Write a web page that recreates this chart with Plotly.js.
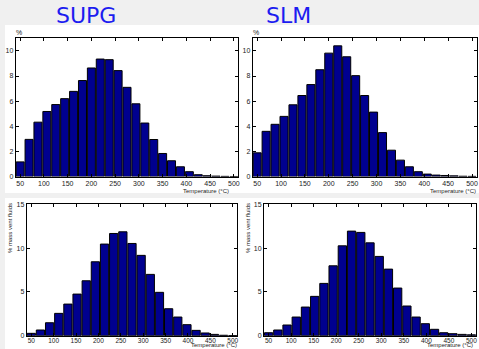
<!DOCTYPE html>
<html><head><meta charset="utf-8">
<script src="https://cdn.plot.ly/plotly-3.0.1.min.js"></script>
<style>html,body{margin:0;padding:0;background:#f0f0f0;}#g{width:479px;height:349px;}</style>
</head><body><div id="g"></div>
<script>
// Bin centres (°C)
const topBins = [50, 68.75, 87.5, 106.25, 125, 143.75, 162.5, 181.25, 200, 218.75, 237.5, 256.25, 275,
  293.75, 312.5, 331.25, 350, 368.75, 387.5, 406.25, 425, 443.75, 462.5, 481.25, 500];
const bottomBins = [50, 70.45, 90.91, 111.36, 131.82, 152.27, 172.73, 193.18, 213.64, 234.09, 254.55, 275,
  295.45, 315.91, 336.36, 356.82, 377.27, 397.73, 418.18, 438.64, 459.09, 479.55, 500];
// % values
const supgTop = [1.17, 2.96, 4.33, 5.18, 5.73, 6.2, 6.78, 7.64, 8.64, 9.35, 9.3, 8.43, 7.1,
  5.79, 4.26, 2.95, 1.84, 1.26, 0.78, 0.39, 0.15, 0.07, 0.04, 0.02, 0.01];
const slmTop = [1.89, 3.6, 4.16, 4.79, 5.71, 6.45, 7.32, 8.5, 9.82, 10.4, 9.53, 8.03, 6.45,
  5.13, 3.5, 2.1, 1.31, 0.78, 0.39, 0.2, 0.12, 0.09, 0.06, 0.03, 0.02];
const supgBottom = [0.27, 0.65, 1.48, 2.55, 3.61, 4.75, 6.27, 8.44, 10.46, 11.67, 11.86, 10.53,
  9.17, 7.0, 4.95, 3.08, 2.13, 1.26, 0.61, 0.31, 0.15, 0.05, 0.02];
const slmBottom = [0.34, 0.65, 1.22, 2.13, 3.27, 4.49, 5.97, 7.98, 10.26, 11.94, 11.79, 10.6,
  9.05, 7.6, 5.44, 3.39, 2.13, 1.37, 0.73, 0.34, 0.23, 0.15, 0.1];
const xTicks = [50, 100, 150, 200, 250, 300, 350, 400, 450, 500];
const yTicksTop = [0, 2, 4, 6, 8, 10];
const yTicksBottom = [0, 5, 10, 15];
const titles = ['SUPG', 'SLM'];
const yLabelTop = '%';
const yLabelBottom = '% mass vent fluids';
const xLabel = 'Temperature (°C)';

const W = 479, H = 349;
const px = v => v / W, py = v => 1 - v / H;
const barColor = '#00008f';
const tickFont = {family: 'Liberation Sans, Arial, sans-serif', size: 7, color: '#222'};
const tickFontSmall = {family: 'Liberation Sans, Arial, sans-serif', size: 6.5, color: '#222'};

function bar(x, y, xa, ya) {
  return {type: 'bar', x: x, y: y, xaxis: xa, yaxis: ya,
    marker: {color: barColor, line: {color: '#000', width: 1}}, hoverinfo: 'skip'};
}
const data = [
  bar(topBins, supgTop, 'x', 'y'),
  bar(topBins, slmTop, 'x2', 'y2'),
  bar(bottomBins, supgBottom, 'x3', 'y3'),
  bar(bottomBins, slmBottom, 'x4', 'y4')
];
function xa(domain, range, anchor, font, standoff) {
  return {domain: domain, range: range, anchor: anchor, tickvals: xTicks, ticks: 'inside', ticklen: 3,
    tickcolor: '#000', showline: true, linecolor: '#000', linewidth: 1, mirror: 'ticks',
    showgrid: false, zeroline: false, tickfont: font, fixedrange: true, ticklabelstandoff: standoff};
}
function ya(domain, range, ticks, anchor) {
  return {domain: domain, range: range, anchor: anchor, tickvals: ticks, ticks: 'inside', ticklen: 3,
    tickcolor: '#000', showline: true, linecolor: '#000', linewidth: 1, mirror: 'ticks',
    showgrid: false, zeroline: false, tickfont: tickFont, fixedrange: true};
}
const topY = [py(176.6), py(38.3)];
const botY = [py(335.7), py(204.3)];
const topRange = [40.625, 509.375];
const botRange = [39.77, 510.23];
const smallFont = {family: 'Liberation Sans, Arial, sans-serif', size: 6, color: '#222'};
const titleFont = {family: 'DejaVu Sans, sans-serif', size: 22, color: '#1c1cf0'};
const layout = {
  width: W, height: H, margin: {l: 0, r: 0, t: 0, b: 0},
  paper_bgcolor: '#f0f0f0', plot_bgcolor: '#ffffff', showlegend: false, bargap: 0.1,
  xaxis: xa([px(15.7), px(238.3)], topRange, 'y', tickFont, 0),
  yaxis: ya(topY, [0, 11], yTicksTop, 'x'),
  xaxis2: xa([px(252.7), px(476.5)], topRange, 'y2', tickFont, 0),
  yaxis2: ya(topY, [0, 11], yTicksTop, 'x2'),
  xaxis3: xa([px(26.7), px(237.3)], botRange, 'y3', tickFontSmall, -2),
  yaxis3: ya(botY, [0, 15], yTicksBottom, 'x3'),
  xaxis4: xa([px(264), px(476)], botRange, 'y4', tickFontSmall, -2),
  yaxis4: ya(botY, [0, 15], yTicksBottom, 'x4'),
  shapes: [
    {type: 'rect', xref: 'paper', yref: 'paper', x0: px(5), x1: 1, y0: py(193), y1: py(25),
      fillcolor: '#ffffff', line: {width: 0}, layer: 'below'},
    {type: 'rect', xref: 'paper', yref: 'paper', x0: px(5), x1: 1, y0: 0, y1: py(198),
      fillcolor: '#ffffff', line: {width: 0}, layer: 'below'}
  ],
  annotations: [
    {text: titles[0], x: px(86), y: py(15), xref: 'paper', yref: 'paper', showarrow: false,
      xanchor: 'center', yanchor: 'middle', font: titleFont},
    {text: titles[1], x: px(288), y: py(15), xref: 'paper', yref: 'paper', showarrow: false,
      xanchor: 'center', yanchor: 'middle', font: titleFont},
    {text: yLabelTop, x: px(19), y: py(32), xref: 'paper', yref: 'paper', showarrow: false,
      xanchor: 'center', yanchor: 'middle', font: {family: 'Liberation Sans, Arial, sans-serif', size: 7, color: '#222'}},
    {text: yLabelTop, x: px(256), y: py(32), xref: 'paper', yref: 'paper', showarrow: false,
      xanchor: 'center', yanchor: 'middle', font: {family: 'Liberation Sans, Arial, sans-serif', size: 7, color: '#222'}},
    {text: yLabelBottom, x: px(10), y: py(228), xref: 'paper', yref: 'paper', showarrow: false,
      xanchor: 'center', yanchor: 'middle', textangle: -90, font: smallFont},
    {text: yLabelBottom, x: px(248), y: py(228), xref: 'paper', yref: 'paper', showarrow: false,
      xanchor: 'center', yanchor: 'middle', textangle: -90, font: smallFont},
    {text: xLabel, x: px(231), y: py(191), xref: 'paper', yref: 'paper', showarrow: false,
      xanchor: 'right', yanchor: 'middle', font: smallFont},
    {text: xLabel, x: px(478), y: py(191), xref: 'paper', yref: 'paper', showarrow: false,
      xanchor: 'right', yanchor: 'middle', font: smallFont},
    {text: xLabel, x: px(238), y: 0, xref: 'paper', yref: 'paper', showarrow: false,
      xanchor: 'right', yanchor: 'bottom', font: smallFont, borderpad: 0},
    {text: xLabel, x: px(474), y: 0, xref: 'paper', yref: 'paper', showarrow: false,
      xanchor: 'right', yanchor: 'bottom', font: smallFont, borderpad: 0}
  ]
};
Plotly.newPlot('g', data, layout, {displayModeBar: false, staticPlot: true});
</script>
</body></html>
